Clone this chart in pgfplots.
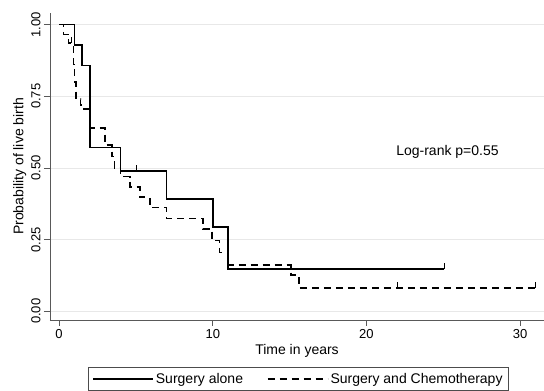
\documentclass[border=0pt]{standalone}
\usepackage{pgfplots}
\pgfplotsset{compat=1.18}
\usepackage{fontspec}
\setmainfont{Liberation Sans}
\begin{document}
\begin{tikzpicture}
\begin{axis}[
  scale only axis, width=494pt, height=307pt,
  xmin=-0.59, xmax=31.55, ymin=-0.0303, ymax=1.0405,
  axis lines=left, axis line style={-, black!65, line width=0.8pt},
  xtick={0,10,20,30},
  ytick={0,0.25,0.5,0.75,1},
  yticklabels={0.00,0.25,0.50,0.75,1.00},
  tick align=outside, major tick length=6pt,
  tick style={black!65, line width=0.8pt},
  /pgf/number format/assume math mode=true,
  ticklabel style={font=\fontsize{13}{15}\selectfont},
  yticklabel style={rotate=90, anchor=south},
  ymajorgrids, grid style={black!9, line width=0.8pt},
  xlabel={Time in years},
  ylabel={Probability of live birth},
  label style={font=\fontsize{14}{16}\selectfont},
  xlabel style={yshift=1pt},
  ylabel style={yshift=-2pt},
  legend columns=2,
  legend cell align=left,
  legend style={at={(0.503,-0.152)}, anchor=north, draw=black!70, line width=0.6pt,
    font=\fontsize{14}{16}\selectfont, inner xsep=4pt, inner ysep=4pt,
    /tikz/every even column/.append style={column sep=22pt}},
  legend image code/.code={\draw[#1] (0pt,0pt) -- (55pt,0pt); \path (0pt,0pt) -- (60pt,0pt);},
]
\coordinate (O) at (rel axis cs:0,0);
\addplot[const plot, black, line width=1.5pt] coordinates {
(0,1.000) (1.0,0.929) (1.5,0.857) (2.0,0.571) (4.0,0.490)
(7.0,0.392) (10.0,0.294) (11.0,0.147) (25.05,0.147)};
\addlegendentry{Surgery alone}
\addplot[const plot, black, line width=1.5pt, dash pattern=on 7pt off 5pt] coordinates {
(0,1.000) (0.3,0.966) (0.6,0.935) (0.95,0.86) (1.0,0.80) (1.1,0.74)
(1.4,0.72) (1.6,0.705) (2.0,0.640) (3.0,0.58) (3.45,0.54) (3.6,0.50)
(4.0,0.470) (4.6,0.433) (5.25,0.398) (5.9,0.362) (7.0,0.324)
(9.35,0.287) (9.95,0.247) (10.45,0.205) (11.0,0.161) (15.1,0.127)
(15.6,0.082) (31.0,0.082)};
\addlegendentry{Surgery and Chemotherapy}
% censoring ticks
\addplot[forget plot, black, line width=0.8pt] coordinates {(5.05,0.490) (5.05,0.511)};
\addplot[forget plot, black, line width=0.8pt] coordinates {(25.05,0.147) (25.05,0.168)};
\addplot[forget plot, black, line width=0.8pt] coordinates {(0.8,0.935) (0.8,0.956)};
\addplot[forget plot, black, line width=0.8pt] coordinates {(22.0,0.082) (22.0,0.103)};
\addplot[forget plot, black, line width=0.8pt] coordinates {(31.0,0.082) (31.0,0.103)};
\node[anchor=base west, font=\fontsize{14}{16}\selectfont] at (axis cs:21.71,0.545) {Log-rank p=0.55};
\end{axis}
\pgfresetboundingbox
\path[use as bounding box] ([xshift=-50pt,yshift=-71pt]O) rectangle ([xshift=494pt,yshift=320pt]O);
\end{tikzpicture}
\end{document}
